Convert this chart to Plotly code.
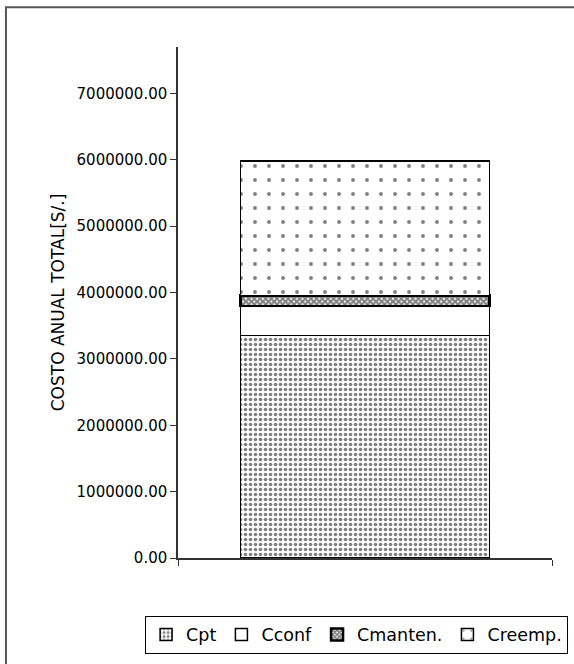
import plotly.graph_objects as go

# Annual cost breakdown (stacked, single column)
categories = [""]
series_names = ["Cpt", "Cconf", "Cmanten.", "Creemp."]
cpt = [3350000.0]
cconf = [445000.0]
cmanten = [160000.0]
creemp = [2030000.0]

tick_values = [0, 1000000, 2000000, 3000000, 4000000, 5000000, 6000000, 7000000]
y_title = "COSTO ANUAL TOTAL[S/.]"

FONT = "DejaVu Sans"

patterns = [
    dict(shape=".", fgcolor="black", bgcolor="white", size=5, solidity=0.4),
    dict(shape="", fgcolor="black", bgcolor="white"),
    dict(shape="x", fgcolor="black", bgcolor="white", size=4, solidity=0.75),
    dict(shape=".", fgcolor="black", bgcolor="white", size=14, solidity=0.06),
]
outline_widths = [1.5, 1.5, 2.5, 1.5]

fig = go.Figure()
for name, vals, pat, lw in zip(series_names, [cpt, cconf, cmanten, creemp], patterns, outline_widths):
    fig.add_trace(go.Bar(
        x=categories, y=vals, name=name, width=0.666,
        marker=dict(color="white", line=dict(color="black", width=lw), pattern=pat),
    ))

fig.update_layout(
    barmode="stack",
    width=574, height=664,
    margin=dict(l=178, r=22, t=47, b=106, autoexpand=False),
    paper_bgcolor="white", plot_bgcolor="white",
    font=dict(family=FONT, color="black"),
    showlegend=True,
    legend=dict(
        orientation="h", traceorder="normal",
        x=-0.088, xanchor="left", y=-0.113, yanchor="top",
        bordercolor="black", borderwidth=1,
        font=dict(family=FONT, size=17.5, color="black"),
        itemwidth=30, tracegroupgap=0,
    ),
    xaxis=dict(
        type="category", showline=True, linecolor="#333", linewidth=1.5,
        ticks="outside", tickson="boundaries", ticklen=6, tickcolor="#333",
        showticklabels=False, showgrid=False, zeroline=False,
    ),
    yaxis=dict(
        range=[0, 7700000], tickvals=tick_values, tickformat=".2f",
        showline=True, linecolor="#333", linewidth=1.5,
        ticks="outside", ticklen=6, tickcolor="#333",
        showgrid=False, zeroline=False,
        tickfont=dict(family=FONT, size=15, color="black"),
        title=dict(text=y_title, font=dict(family=FONT, size=17, color="black"), standoff=8),
    ),
    shapes=[
        dict(type="rect", xref="paper", yref="paper",
             x0=-0.46, x1=1.2, y0=-0.3, y1=1.078,
             line=dict(color="#555", width=2), fillcolor="rgba(0,0,0,0)", layer="above"),
    ],
)

fig.write_html("out.html")
